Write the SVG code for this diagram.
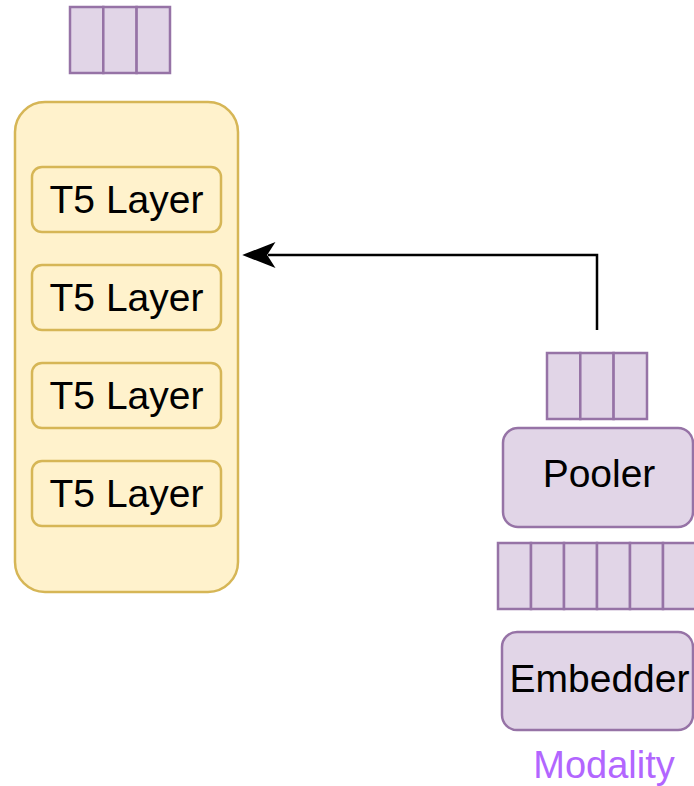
<svg xmlns="http://www.w3.org/2000/svg" width="694" height="786" viewBox="0 0 694 786">
  <style>
    .cell { fill: #e1d5e7; stroke: #9673a6; stroke-width: 2.5; }
    .pbox { fill: #e1d5e7; stroke: #9673a6; stroke-width: 2.5; }
    .ybox { fill: #fff2cc; stroke: #d6b656; stroke-width: 2.5; }
    .lbl { font-family: "Liberation Sans", Arial, sans-serif; font-size: 39px; fill: #000; text-anchor: middle; }
    .mod { font-family: "Liberation Sans", Arial, sans-serif; font-size: 38px; fill: #b266ff; text-anchor: middle; }
    .edge { fill: none; stroke: #000; stroke-width: 2.5; }
  </style>

  <!-- output token array above the encoder -->
  <g id="t5-tokens">
    <rect class="cell" x="70" y="7" width="33.3" height="66"/>
    <rect class="cell" x="103.3" y="7" width="33.3" height="66"/>
    <rect class="cell" x="136.6" y="7" width="33.4" height="66"/>
  </g>

  <!-- T5 encoder stack -->
  <g id="t5-stack">
    <rect class="ybox" x="15" y="102" width="223" height="490" rx="30"/>
  </g>
  <g id="t5-layer-1">
    <rect class="ybox" x="32" y="167" width="189" height="65" rx="10"/>
    <text class="lbl" x="126.5" y="213">T5 Layer</text>
  </g>
  <g id="t5-layer-2">
    <rect class="ybox" x="32" y="265" width="189" height="65" rx="10"/>
    <text class="lbl" x="126.5" y="311">T5 Layer</text>
  </g>
  <g id="t5-layer-3">
    <rect class="ybox" x="32" y="363" width="189" height="65" rx="10"/>
    <text class="lbl" x="126.5" y="409">T5 Layer</text>
  </g>
  <g id="t5-layer-4">
    <rect class="ybox" x="32" y="461" width="189" height="65" rx="10"/>
    <text class="lbl" x="126.5" y="507">T5 Layer</text>
  </g>

  <!-- pooled tokens -->
  <g id="pooled-tokens">
    <rect class="cell" x="547" y="353" width="33.3" height="66"/>
    <rect class="cell" x="580.3" y="353" width="33.3" height="66"/>
    <rect class="cell" x="613.6" y="353" width="33.4" height="66"/>
  </g>

  <g id="pooler">
    <rect class="pbox" x="503" y="428" width="190" height="99" rx="15"/>
    <text class="lbl" x="599" y="487">Pooler</text>
  </g>

  <!-- embedded tokens (runs past the right edge) -->
  <g id="embedded-tokens">
    <rect class="cell" x="498" y="543" width="33" height="66"/>
    <rect class="cell" x="531" y="543" width="33" height="66"/>
    <rect class="cell" x="564" y="543" width="33" height="66"/>
    <rect class="cell" x="597" y="543" width="33" height="66"/>
    <rect class="cell" x="630" y="543" width="33" height="66"/>
    <rect class="cell" x="663" y="543" width="33" height="66"/>
  </g>

  <g id="embedder">
    <rect class="pbox" x="502" y="632" width="191" height="98" rx="15"/>
    <text class="lbl" x="599.5" y="692">Embedder</text>
  </g>

  <g id="modality-label">
    <text class="mod" x="604" y="778">Modality</text>
  </g>

  <!-- connectors -->
  <g id="connectors">
    <path class="edge" d="M597 330 V255 H268"/>
    <path d="M245 255 L273 244 L266 255 L273 266 Z" fill="#000" stroke="#000" stroke-width="2" stroke-linejoin="miter"/>
  </g>
</svg>
